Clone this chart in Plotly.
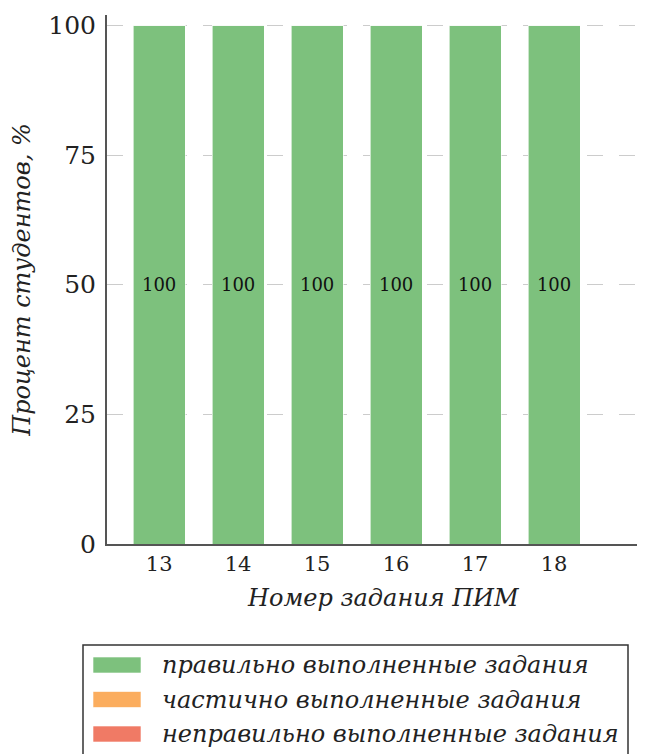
import plotly.graph_objects as go

# номера заданий ПИМ и доли студентов, %
zadaniya = [13, 14, 15, 16, 17, 18]
pravilno = [100, 100, 100, 100, 100, 100]
chastichno = [0, 0, 0, 0, 0, 0]
nepravilno = [0, 0, 0, 0, 0, 0]

nazvaniya = ["правильно выполненные задания",
             "частично выполненные задания",
             "неправильно выполненные задания"]
tsveta = ["#7dc17d", "#fbad5e", "#f07a65"]

SERIF = "DejaVu Serif"
W, H = 649, 754
OFF = 8  # отступ body в странице
ML, MR, MT, MB = 107 - OFF, 12 + OFF, 15 - OFF, 210 + OFF
PW, PH = W - ML - MR, H - MT - MB


def px2paper(x, y):
    # пиксели окна -> координаты paper
    x, y = x - OFF, y - OFF
    return (x - ML) / PW, (H - MB - y) / PH


fig = go.Figure()

for znach, imya, cvet in zip([pravilno, chastichno, nepravilno], nazvaniya, tsveta):
    fig.add_trace(go.Bar(
        x=zadaniya,
        y=znach,
        name=imya,
        showlegend=False,
        marker=dict(color=cvet, line=dict(color="rgba(255,255,255,0.6)", width=1)),
        width=0.66,
        text=[str(v) if v > 0 else "" for v in znach],
        textposition="inside",
        insidetextanchor="middle",
        textangle=0,
        textfont=dict(family=SERIF, size=18, color="#111111"),
    ))

# подпись оси X (в оригинале чуть правее центра)
tx, ty = px2paper(383, 598)
fig.add_annotation(xref="paper", yref="paper", x=tx, y=ty, xanchor="center", yanchor="middle",
                   text="<i>Номер задания ПИМ</i>", showarrow=False,
                   font=dict(family=SERIF, size=24, color="#222222"))

# легенда в рамке под графиком
x0, y0 = px2paper(83, 645)
x1, y1 = px2paper(628, 770)
fig.add_shape(type="rect", xref="paper", yref="paper", x0=x0, y0=y0, x1=x1, y1=y1,
              line=dict(color="#333333", width=1.5), fillcolor="white")
for k, (imya, cvet) in enumerate(zip(nazvaniya, tsveta)):
    cy = 665 + 34.5 * k
    sx0, sy0 = px2paper(93, cy - 8)
    sx1, sy1 = px2paper(141, cy + 8)
    fig.add_shape(type="rect", xref="paper", yref="paper", x0=sx0, y0=sy0, x1=sx1, y1=sy1,
                  line=dict(color="rgba(255,255,255,0.6)", width=1), fillcolor=cvet)
    tx, ty = px2paper(160, cy)
    fig.add_annotation(xref="paper", yref="paper", x=tx, y=ty, xanchor="left", yanchor="middle",
                       text=f"<i>{imya}</i>", showarrow=False,
                       font=dict(family=SERIF, size=24, color="#222222"))

fig.update_layout(
    barmode="stack",
    width=W, height=H,
    margin=dict(l=ML, r=MR, t=MT, b=MB),
    plot_bgcolor="white",
    paper_bgcolor="white",
    font=dict(family=SERIF, color="#222222"),
    showlegend=False,
    xaxis=dict(
        range=[12.34, 19.05],
        tickmode="array",
        tickvals=zadaniya,
        ticktext=[str(z) for z in zadaniya],
        tickfont=dict(size=21),
        showgrid=False,
        showline=True, linecolor="#555555", linewidth=2,
        ticks="",
        automargin=False,
    ),
    yaxis=dict(
        range=[0, 102],
        tickvals=[0, 25, 50, 75, 100],
        tickfont=dict(size=25),
        showgrid=True, gridcolor="#cccccc", gridwidth=1, griddash="16px,16px",
        zeroline=False,
        showline=True, linecolor="#555555", linewidth=2,
        ticks="",
        ticklabelstandoff=4,
        automargin=False,
        title=dict(text="<i>Процент студентов, %</i>", font=dict(size=24), standoff=15),
    ),
)

fig.write_html("out.html")
